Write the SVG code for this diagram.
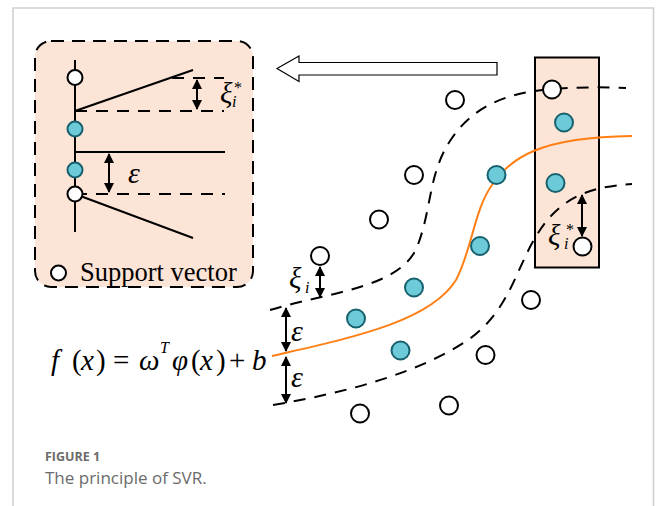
<svg xmlns="http://www.w3.org/2000/svg" width="656" height="506" viewBox="0 0 656 506">
<defs>
<style>
.frame{fill:none;stroke:#cfcfcf;stroke-width:1.5}
.sol{fill:none;stroke:#000;stroke-width:2}
.dash{fill:none;stroke:#000;stroke-width:2;stroke-dasharray:12 9}
.wc{fill:#fff;stroke:#000;stroke-width:2}
.tc{fill:#6CCAD9;stroke:#17616E;stroke-width:2}
.orange{fill:none;stroke:#FF7F14;stroke-width:2}
.arr{fill:none;stroke:#000;stroke-width:2;marker-start:url(#ah);marker-end:url(#ah)}
.m{font-family:"Liberation Serif","Times New Roman","DejaVu Serif",serif;fill:#000}
.i{font-style:italic}
.cap{font-family:"Open Sans","Noto Sans",sans-serif;fill:#6b6b6b}
</style>
<marker id="ah" viewBox="0 0 10 10" refX="9" refY="5" markerWidth="5" markerHeight="5" orient="auto-start-reverse" markerUnits="strokeWidth">
<path d="M0,0 L10,5 L0,10 z" fill="#000"/>
</marker>
</defs>
<rect width="656" height="506" fill="#fff"/>
<path class="frame" d="M13,506 V8 H653.5 V506"/>

<g id="inset">
<rect x="35" y="41" width="218" height="246" rx="16" fill="#FCE4D6" stroke="#000" stroke-width="2" stroke-dasharray="13 8"/>
<line class="sol" x1="75" y1="60" x2="75" y2="232"/>
<line class="sol" x1="75" y1="111" x2="193" y2="70"/>
<line class="dash" x1="75" y1="111" x2="224" y2="111"/>
<line class="dash" x1="172" y1="78" x2="224" y2="78"/>
<line class="arr" x1="197" y1="80" x2="197" y2="109"/>
<line class="sol" x1="75" y1="152" x2="225" y2="152"/>
<line class="dash" x1="75" y1="194" x2="225" y2="194"/>
<line class="arr" x1="109" y1="154" x2="109" y2="192"/>
<line class="sol" x1="75" y1="194" x2="193" y2="238"/>
<circle class="wc" cx="75" cy="77.5" r="7.5"/>
<circle class="tc" cx="75" cy="129" r="7.5"/>
<circle class="tc" cx="75" cy="170" r="7.5"/>
<circle class="wc" cx="75" cy="194" r="7.5"/>
<text class="m i" x="220" y="103" font-size="29">ξ</text>
<text class="m i" x="232" y="107" font-size="16">i</text>
<text class="m" x="234" y="93" font-size="16">*</text>
<text class="m i" x="128" y="183" font-size="30">ε</text>
<circle class="wc" cx="58.5" cy="273" r="7.5"/>
<text class="m" x="80" y="281" font-size="26.5">Support vector</text>
</g>

<g id="bigarrow">
<polygon points="277,68.5 299,56 299,62.5 497,62.5 497,75 299,75 299,81.5" fill="#fff" stroke="#000" stroke-width="1.2"/>
</g>

<g id="window">
<rect x="535" y="57.5" width="64" height="210" fill="#FCE4D6" stroke="#000" stroke-width="2"/>
</g>

<g id="curves">
<path class="dash" d="M270,310 C330,292 400,288 417,247 C432,210 428,172 452,138 C478,100 518,92 552,89 C580,87 605,87 626,88"/>
<path class="orange" d="M272,356 C350,338 430,322 456,280 C472,250 474,210 492,185 C510,158 540,137 632,136"/>
<path class="dash" d="M273,405 C350,392 420,372 468,340 C508,312 515,272 535,238 C555,204 580,187 632,184"/>
</g>

<g id="points">
<circle class="wc" cx="455" cy="100" r="9"/>
<circle class="wc" cx="552" cy="89.5" r="9"/>
<circle class="tc" cx="564" cy="122.5" r="9"/>
<circle class="wc" cx="414" cy="175" r="9"/>
<circle class="tc" cx="496.5" cy="175" r="9"/>
<circle class="tc" cx="555.5" cy="183" r="9"/>
<circle class="wc" cx="379" cy="219.5" r="9"/>
<circle class="tc" cx="480" cy="246" r="9"/>
<circle class="wc" cx="582.5" cy="246.5" r="9"/>
<circle class="wc" cx="320" cy="256" r="9"/>
<circle class="tc" cx="414" cy="287.5" r="9"/>
<circle class="tc" cx="356" cy="318.5" r="9"/>
<circle class="tc" cx="400.5" cy="350.5" r="9"/>
<circle class="wc" cx="531" cy="300" r="9"/>
<circle class="wc" cx="485.5" cy="355" r="9"/>
<circle class="wc" cx="449" cy="405.5" r="9"/>
<circle class="wc" cx="360" cy="413.5" r="9"/>
</g>

<g id="margins">
<line class="arr" x1="320" y1="267" x2="320" y2="297"/>
<text class="m i" x="289" y="288" font-size="29">ξ</text>
<text class="m i" x="305" y="293" font-size="16">i</text>
<line class="arr" x1="582" y1="195" x2="582" y2="236"/>
<text class="m i" x="548" y="245" font-size="29">ξ</text>
<text class="m i" x="564" y="249" font-size="16">i</text>
<text class="m" x="566" y="235" font-size="16">*</text>
<line class="arr" x1="286" y1="308" x2="286" y2="351"/>
<line class="arr" x1="286" y1="357" x2="286" y2="403"/>
<text class="m i" x="291" y="341" font-size="30">ε</text>
<text class="m i" x="291" y="387" font-size="30">ε</text>
</g>

<g id="formula" class="m" font-size="29">
<text class="i" x="51" y="370">f</text>
<text x="72" y="370">(</text>
<text class="i" x="81" y="370">x</text>
<text x="96" y="370">)</text>
<text x="113" y="370">=</text>
<text class="i" x="139" y="370">ω</text>
<text class="i" x="160" y="353" font-size="16">T</text>
<text class="i" x="172" y="370">φ</text>
<text x="191" y="370">(</text>
<text class="i" x="200" y="370">x</text>
<text x="216" y="370">)</text>
<text x="229" y="370">+</text>
<text class="i" x="252" y="370">b</text>
</g>

<g id="caption">
<text class="cap" x="45" y="461" font-size="12.5" font-weight="bold">FIGURE 1</text>
<text class="cap" x="45" y="484" font-size="17">The principle of SVR.</text>
</g>
</svg>
